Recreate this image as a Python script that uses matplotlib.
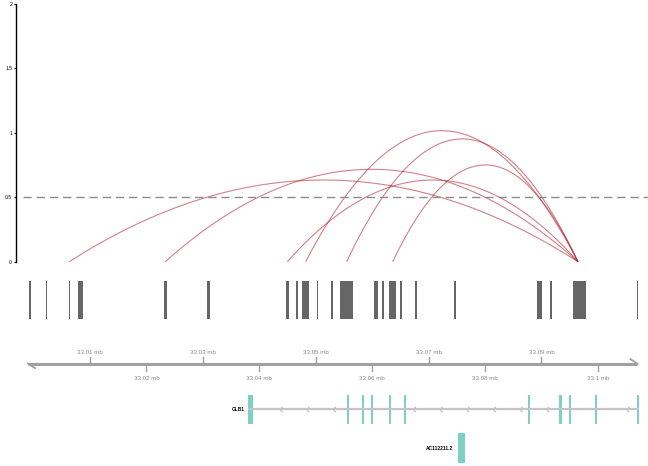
import numpy as np
import matplotlib
matplotlib.use("Agg")
import matplotlib.pyplot as plt

# region shown (bp)
chrom_start = 32999000
chrom_end = 33107000

# interactions: anchor starts, shared end, arc heights
arc_starts = [33006330, 33023340, 33044960, 33048220, 33055480, 33063630]
arc_end = 33096460
arc_heights = [0.634, 0.717, 0.634, 1.017, 0.953, 0.751]

# feature track (bed regions)
bed_starts = [32999244, 33002203, 33006279, 33007927, 33023113, 33030732,
              33044678, 33046503, 33047566, 33050171, 33052705, 33054300,
              33060378, 33061742, 33062930, 33064932, 33067537, 33074501,
              33089262, 33091565, 33095534, 33106875]
bed_ends = [32999474, 33002434, 33006509, 33008706, 33023591, 33031264,
            33045210, 33046858, 33048860, 33050455, 33053006, 33056550,
            33061087, 33062150, 33064223, 33065286, 33067998, 33074855,
            33090148, 33091813, 33097891, 33107159]

# genome axis ticks (mb)
tick_mb = [33.01, 33.02, 33.03, 33.04, 33.05, 33.06, 33.07, 33.08, 33.09, 33.1]
tick_labels = ["33.01 mb", "33.02 mb", "33.03 mb", "33.04 mb", "33.05 mb",
               "33.06 mb", "33.07 mb", "33.08 mb", "33.09 mb", "33.1 mb"]

# genes
glb1_exon_starts = [33038051, 33055487, 33058145, 33059793, 33062983, 33065641,
                    33087560, 33093107, 33094826, 33099539, 33106928]
glb1_exon_ends = [33038937, 33055895, 33058500, 33060201, 33063337, 33065995,
                  33087915, 33093638, 33095233, 33099894, 33107283]
ac_exon_starts = [33075263]
ac_exon_ends = [33076450]

W, H = 648, 466
bp_per_px = 177.2
x_left = 33010000 - 74 * bp_per_px
x_right = 33010000 + 558 * bp_per_px

fig = plt.figure(figsize=(W / 100, H / 100), dpi=100)
plt.rcParams["font.family"] = ["Liberation Sans", "DejaVu Sans"]

arc_col = (0.68, 0.1, 0.16, 0.55)
axis_grey = "#a0a0a0"
text_grey = "#8a8a8a"
exon_col = "#7dd1c2"

# ---- arcs panel
ax = fig.add_axes([16 / W, 1 - 261.7 / H, 632 / W, 257.7 / H])
ax.set_xlim(x_left, x_right)
ax.set_ylim(0, 2)
t = np.linspace(0, 1, 200)
for s, h in zip(arc_starts, arc_heights):
    ax.plot(s + t * (arc_end - s), 4 * h * t * (1 - t), color=arc_col, lw=0.8,
            solid_capstyle="butt")
ax.plot([x_left + 7 * bp_per_px, x_right], [0.5, 0.5], color="#8c8c8c",
        lw=1.0, dashes=(6, 3.5))
for side in ["top", "right", "bottom"]:
    ax.spines[side].set_visible(False)
ax.spines["left"].set_linewidth(1.0)
ax.spines["left"].set_bounds(0, 2)
ax.set_xticks([])
ax.set_yticks([0, 0.5, 1, 1.5, 2])
ax.set_yticklabels(["0", "0.5", "1", "1.5", "2"])
ax.tick_params(axis="y", length=1.6, width=0.8, pad=1.2, labelsize=3.6)
ax.patch.set_alpha(0)

# ---- lower tracks (y in pixel rows)
lx = fig.add_axes([16 / W, 0, 632 / W, (H - 270) / H])
lx.set_xlim(x_left, x_right)
lx.set_ylim(H, 270)
lx.axis("off")

# feature bars
lx.bar(bed_starts, 38.3, width=np.array(bed_ends) - np.array(bed_starts),
       bottom=281, align="edge", color="#666666", linewidth=0)

# genome axis line with harpoon ends
yl = 363.6
lx.plot([chrom_start, chrom_end], [yl, yl], color=axis_grey, lw=2.2,
        solid_capstyle="butt")
lx.plot([chrom_start, chrom_start + 7 * bp_per_px], [yl, yl + 4.5],
        color=axis_grey, lw=1.3)
lx.plot([chrom_end, chrom_end - 7 * bp_per_px], [yl, yl - 4.5],
        color=axis_grey, lw=1.3)
for i, (m, lab) in enumerate(zip(tick_mb, tick_labels)):
    xb = m * 1e6
    if i % 2 == 0:
        lx.plot([xb, xb], [yl, yl - 7], color=axis_grey, lw=1)
        lx.text(xb, 352.6, lab, ha="center", va="center", fontsize=4.4,
                color=text_grey)
    else:
        lx.plot([xb, xb], [yl, yl + 7], color=axis_grey, lw=1)
        lx.text(xb, 378.4, lab, ha="center", va="center", fontsize=4.4,
                color=text_grey)

# GLB1 (minus strand)
yg = 409.5
g0, g1 = glb1_exon_starts[0], glb1_exon_ends[-1]
lx.plot([g0, g1], [yg, yg], color="#c4c4c4", lw=1.6, solid_capstyle="butt")
step = 26.67 * bp_per_px
for xa in np.arange(g0 + 31.6 * bp_per_px, g1, step):
    near = any(s - 4 * bp_per_px < xa < e + 4 * bp_per_px
               for s, e in zip(glb1_exon_starts, glb1_exon_ends))
    if near:
        continue
    lx.plot([xa + 2.2 * bp_per_px, xa, xa + 2.2 * bp_per_px],
            [yg - 2.2, yg, yg + 2.2], color="#c4c4c4", lw=0.9)
lx.bar(glb1_exon_starts, 29.4,
       width=np.array(glb1_exon_ends) - np.array(glb1_exon_starts),
       bottom=yg - 14.7, align="edge", color=exon_col, linewidth=0)
lx.text(g0 - 4 * bp_per_px, yg, "GLB1", ha="right", va="center",
        fontsize=3.4, fontweight="bold", color="black")

# AC112211.2
ya = 448.3
lx.bar(ac_exon_starts, 30, width=np.array(ac_exon_ends) - np.array(ac_exon_starts),
       bottom=ya - 15, align="edge", color=exon_col, linewidth=0)
lx.text(ac_exon_starts[0] - 5.5 * bp_per_px, ya, "AC112211.2", ha="right",
        va="center", fontsize=3.5, fontweight="bold", color="black")

fig.savefig("out.png", dpi=100)
